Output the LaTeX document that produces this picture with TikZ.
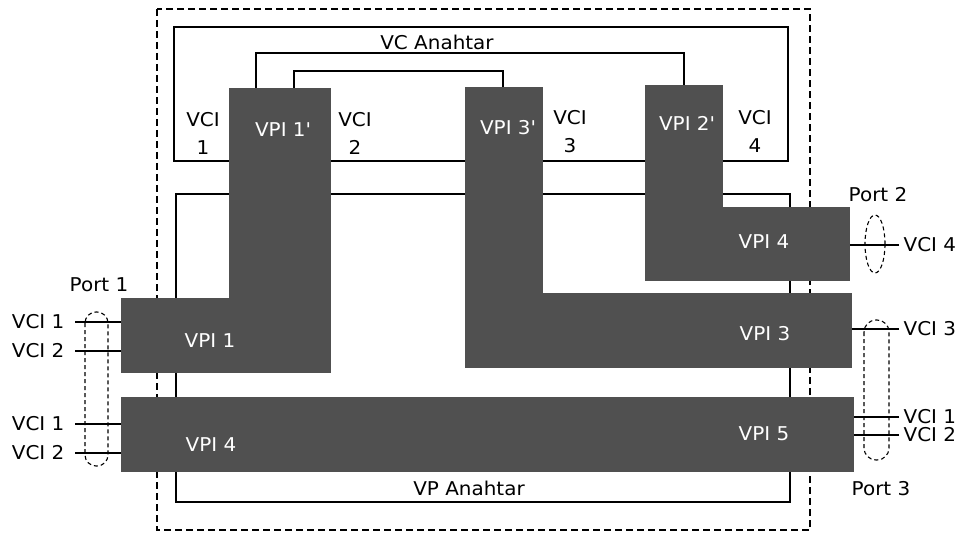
\documentclass[tikz,border=0pt]{standalone}
\usepackage{fontspec}
\setmainfont{DejaVu Sans}[FakeStretch=1.05]
\definecolor{vpgray}{RGB}{80,80,80}

\begin{document}
\begin{tikzpicture}[x=1pt,y=-1pt,line width=1.3pt,font=\fontsize{19}{28}\selectfont,
  blk/.style={fill=vpgray,draw=none,inner sep=0pt,outer sep=0pt,anchor=north west},
  wtxt/.style={text=white,anchor=base},
  btxt/.style={anchor=base,align=center,inner sep=0pt},
  vcil/.style={anchor=east,inner sep=0pt,inner xsep=10pt},
  vcir/.style={anchor=west,inner sep=0pt,inner xsep=4pt},
  border/.style={line width=1.2pt,dash pattern=on 7pt off 4pt},
  port/.style={line width=1.1pt,dash pattern=on 4pt off 3pt}]
\useasboundingbox (0,0) rectangle (963,537);
% switch frames
\draw[border] (157,9) rectangle (810,530);
\draw (174,27) rectangle (788,161);
\draw (176,194) rectangle (790,502);
\node[btxt] (vcsw) at (437,50) {VC Anahtar};
\node[btxt] (vpsw) at (469,495) {VP Anahtar};
% VP blocks
\node[blk,minimum width=102pt,minimum height=211pt] (vpi1c) at (229,88) {};
\node[blk,minimum width=210pt,minimum height=75pt] (vpi1) at (121,298) {};
\node[blk,minimum width=78pt,minimum height=207pt] (vpi3c) at (465,87) {};
\node[blk,minimum width=387pt,minimum height=75pt] (vpi3) at (465,293) {};
\node[blk,minimum width=78pt,minimum height=123pt] (vpi2c) at (645,85) {};
\node[blk,minimum width=205pt,minimum height=74pt] (vpi4r) at (645,207) {};
\node[blk,minimum width=733pt,minimum height=75pt] (vpbar) at (121,397) {};
% VC paths
\draw (vpi1c.north west) ++(27,0) -- ++(0,-35) -| ([xshift=39pt]vpi2c.north west);
\draw (vpi1c.north west) ++(65,0) -- ++(0,-17) -| ([xshift=38pt]vpi3c.north west);
% block labels
\node[wtxt] (t1c) at (283,137) {VPI 1\textquotesingle};
\node[wtxt] (t3c) at (508,135) {VPI 3\textquotesingle};
\node[wtxt] (t2c) at (687,131) {VPI 2\textquotesingle};
\node[wtxt] (t1) at (210,347) {VPI 1};
\node[wtxt] (t4l) at (211,451) {VPI 4};
\node[wtxt] (t4r) at (764,248) {VPI 4};
\node[wtxt] (t3) at (765,340) {VPI 3};
\node[wtxt] (t5) at (764,440) {VPI 5};
\node[btxt] (c1) at (203,155) {VCI\\1};
\node[btxt] (c2) at (355,155) {VCI\\2};
\node[btxt] (c3) at (570,153) {VCI\\3};
\node[btxt] (c4) at (755,153) {VCI\\4};
% ports
\node[vcil] (l1a) at (75,322) {VCI 1};
\node[vcil] (l2a) at (75,351) {VCI 2};
\node[vcil] (l1b) at (75,424) {VCI 1};
\node[vcil] (l2b) at (75,453) {VCI 2};
\node[vcir] (r4) at (899,245) {VCI 4};
\node[vcir] (r3) at (899,329) {VCI 3};
\node[vcir] (r1) at (899,417) {VCI 1};
\node[vcir] (r2) at (899,435) {VCI 2};
\draw (l1a.east) -- (l1a.east -| vpi1.west);
\draw (l2a.east) -- (l2a.east -| vpi1.west);
\draw (l1b.east) -- (l1b.east -| vpbar.west);
\draw (l2b.east) -- (l2b.east -| vpbar.west);
\draw (r4.west) -- (r4.west -| vpi4r.east);
\draw (r3.west) -- (r3.west -| vpi3.east);
\draw (r1.west) -- (r1.west -| vpbar.east);
\draw (r2.west) -- (r2.west -| vpbar.east);
\draw[port,rounded corners=11pt] (85,312) rectangle (108,466);
\draw[port] (875,244) ellipse (10 and 29);
\draw[port,rounded corners=12pt] (864,320) rectangle (889,460);
\node[btxt] (p1) at (99,291) {Port 1};
\node[btxt] (p2) at (878,202) {Port 2};
\node[btxt] (p3) at (881,495) {Port 3};
\end{tikzpicture}
\end{document}
